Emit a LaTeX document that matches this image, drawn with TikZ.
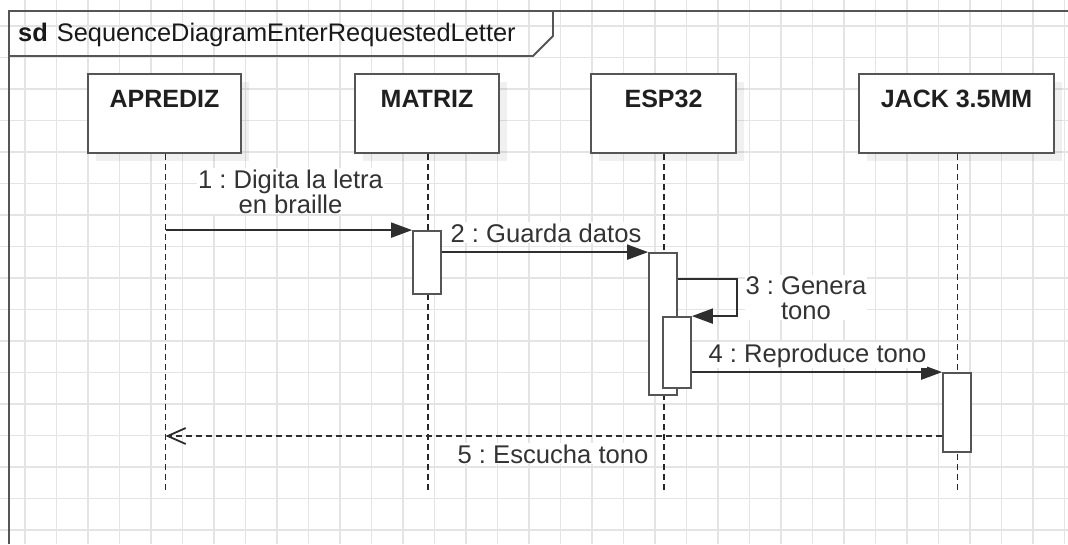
\documentclass[tikz,border=0pt]{standalone}
\usepackage{fontspec}
\setmainfont{Liberation Sans}
\usetikzlibrary{arrows.meta,calc,shadows}
\definecolor{gridc}{HTML}{E4E4E4}
\definecolor{linec}{HTML}{2E2E2E}
\definecolor{framec}{HTML}{555555}
\definecolor{txtc}{HTML}{333333}
\frenchspacing
\begin{document}
\begin{tikzpicture}[x=1pt,y=-1pt,
  gridline/.style={draw=gridc, line width=1.5pt},
  framestyle/.style={draw=framec, line width=1.8pt},
  lifebox/.style={draw=framec, line width=1.8pt, fill=white, minimum width=#1,
    inner xsep=0pt, inner ysep=0pt, text height=33pt, text depth=46pt,
    font=\bfseries\fontsize{25}{25}\selectfont, text=black!88,
    drop shadow={shadow xshift=8pt, shadow yshift=-8pt, opacity=0.06, fill=black}},
  actbox/.style={draw=framec, line width=1.8pt, fill=white, minimum width=28pt,
    minimum height=#1, inner sep=0pt},
  lifeline/.style={draw=black!85, line width=1.8pt, dash pattern=on 6pt off 4pt},
  msg/.style={draw=linec, line width=1.9pt, -{Triangle[length=21pt,width=15pt]}},
  retmsg/.style={draw=linec, line width=1.8pt, dash pattern=on 6pt off 4pt,
    -{Straight Barb[length=18pt,width=16pt,line width=1.8pt]}},
  msglabel/.style={fill=white, inner sep=1pt, text=txtc, align=center,
    font=\fontsize{25.6}{25}\selectfont},
  titletext/.style={inner sep=0pt, text=black!90, font=\fontsize{25.4}{25}\selectfont}
]
\useasboundingbox (0,0) rectangle (1068,544);
\fill[white] (0,0) rectangle (1068,544);
% grid
\foreach \k in {0,...,33} { \draw[gridline] ({25+31.5*\k},0) -- ({25+31.5*\k},544); }
\foreach \k in {0,...,16} { \draw[gridline] (0,{26+31.5*\k}) -- (1068,{26+31.5*\k}); }
% frame
\draw[framestyle] (9,544) -- (9,11) -- (1068,11);
\draw[framestyle] (9,56) -- (533,56) -- (553,36) -- (553,11);
\node[titletext, anchor=base west] (title) at (18,41) {\textbf{sd}\hspace{9pt}SequenceDiagramEnterRequestedLetter};
% lifeline heads
\node[lifebox=153pt] (apr) at (164.5,113.5) {APREDIZ};
\node[lifebox=144pt] (mat) at (427,113.5) {MATRIZ};
\node[lifebox=145pt] (esp) at (663.5,113.5) {ESP32};
\node[lifebox=195pt] (jack) at (956.5,113.5) {JACK 3.5MM};
% lifeline ends
\coordinate (aprEnd) at (165.5,490);
\coordinate (matEnd) at (428,490);
\coordinate (espEnd) at (664,490);
\coordinate (jackEnd) at (957.5,490);
\draw[lifeline] (aprEnd |- apr.south) -- (aprEnd);
\draw[lifeline] (matEnd |- mat.south) -- (matEnd);
\draw[lifeline] (espEnd |- esp.south) -- (espEnd);
\draw[lifeline] (jackEnd |- jack.south) -- (jackEnd);
% activations
\node[actbox=63pt] (matAct) at (427,262.5) {};
\node[actbox=142pt] (espAct) at (663,324) {};
\node[actbox=71pt] (inAct) at (677,352.5) {};
\node[actbox=79pt] (jackAct) at (957,412.5) {};
% messages
\draw[msg] (aprEnd |- matAct.north) -- (matAct.north west);
\draw[msg] (matAct.east |- espAct.north) -- (espAct.north west);
\coordinate (self) at (737,279);
\draw[msg] (espAct.east |- self) -- (self) -- (self |- inAct.north) -- (inAct.north east);
\draw[msg] (inAct.east |- jackAct.north) -- (jackAct.north west);
\coordinate (ret) at (0,436);
\draw[retmsg] (jackAct.west |- ret) -- (aprEnd |- ret);
% labels
\node[msglabel, anchor=base] (l1) at (290.5,213) {1 : Digita la letra\\en braille};
\node[msglabel, anchor=base] (l2) at (546,242) {2 : Guarda datos};
\node[msglabel, anchor=base] (l3) at (806,319) {3 : Genera\\tono};
\node[msglabel, anchor=base] (l4) at (817.5,362) {4 : Reproduce tono};
\node[msglabel, anchor=base] (l5) at (553,463) {5 : Escucha tono};
\end{tikzpicture}
\end{document}
